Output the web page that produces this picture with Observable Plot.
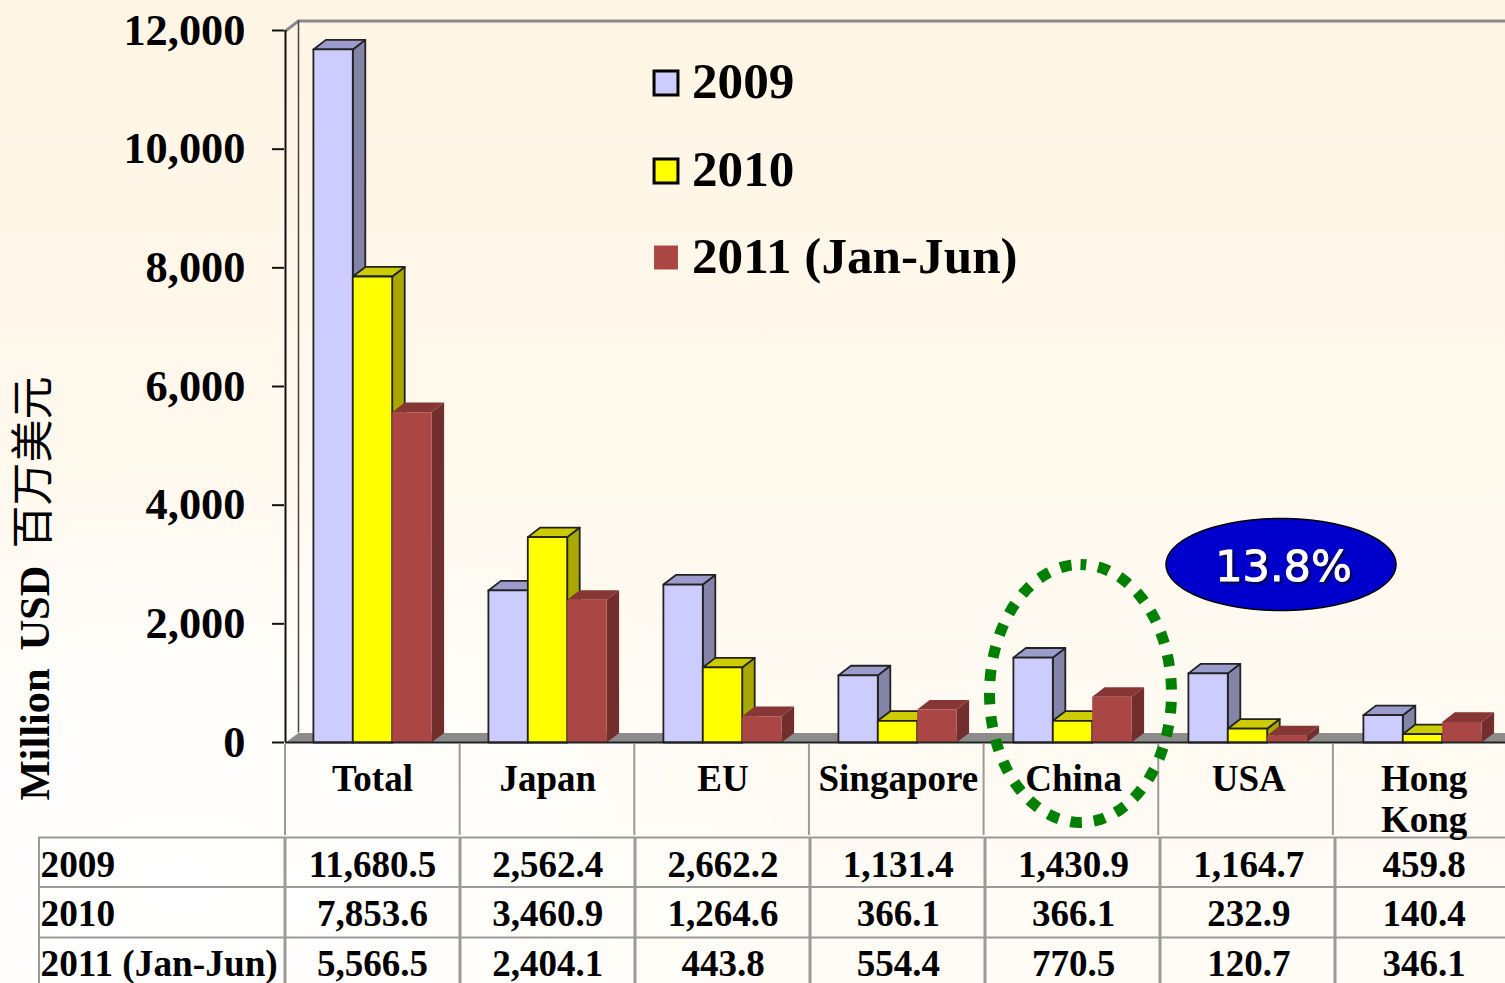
<!DOCTYPE html>
<html><head><meta charset="utf-8">
<script src="https://cdn.jsdelivr.net/npm/d3@7"></script>
<script src="https://cdn.jsdelivr.net/npm/@observablehq/plot@0.6"></script>
<style>
html,body{margin:0;padding:0;width:1505px;height:983px;overflow:hidden;
background:radial-gradient(ellipse 620px 420px at 12% 90%,rgba(255,255,255,1) 0%,rgba(255,255,255,.6) 55%,rgba(255,255,255,0) 100%),linear-gradient(to bottom,#fff5e4 0%,#fff7ea 30%,#fffaf1 65%,#fffcf6 100%);}
svg{display:block;background:transparent!important}
</style></head><body><div id="chart"></div>
<script>
const categories = ["Total","Japan","EU","Singapore","China","USA","Hong\nKong"];
const seriesNames = ["2009","2010","2011 (Jan-Jun)"];
const values2009 = [11680.5,2562.4,2662.2,1131.4,1430.9,1164.7,459.8];
const values2010 = [7853.6,3460.9,1264.6,366.1,366.1,232.9,140.4];
const values2011 = [5566.5,2404.1,443.8,554.4,770.5,120.7,346.1];
const yTicks = [0,2000,4000,6000,8000,10000,12000];
const frontColors = ["#ccccff","#ffff00","#aa4643"];
const topColors = ["#9c9ccc","#cccc00","#853635"];
const sideColors = ["#8484a8","#a8a800","#712e2d"];
const edgeColors = ["#222","#222","none"];
const rows = [values2009,values2010,values2011];

// scale helpers: the chart is laid out on index / value scales
const X0=372, XSTEP=175, Y0=742, YK=712/12000;
const xp = px => (px-X0)/XSTEP;
const yp = px => (Y0-px)/YK;
const barW = 39.4/XSTEP, depX = 12.5/XSTEP, depY = 9.6/YK;
const xMax = xp(1505);
const labelDrift = 0.0015;

const polys=[];
categories.forEach((c,i)=>{
  rows.forEach((vals,s)=>{
    const v=vals[i], l=i+(s-1.5)*barW, r=l+barW;
    const poly=(face,fill,pts)=>pts.concat([pts[0]]).forEach(p=>polys.push({z:`${i}-${s}-${face}`,fill,stroke:edgeColors[s],x:p[0],y:p[1]}));
    poly("side",sideColors[s],[[r,0],[r+depX,depY],[r+depX,v+depY],[r,v]]);
    poly("top",topColors[s],[[l,v],[r,v],[r+depX,v+depY],[l+depX,v+depY]]);
    poly("front",frontColors[s],[[l,0],[r,0],[r,v],[l,v]]);
  });
});
const ellipse=(cx,cy,rx,ry)=>d3.range(0,121).map(k=>{const a=-Math.PI/2+k/120*2*Math.PI;return {x:xp(cx+rx*Math.cos(a)),y:yp(cy+ry*Math.sin(a))};});
const serif='"Liberation Serif","Times New Roman",serif';
const T={fontFamily:serif,fontWeight:"bold",fill:"#000"};
const tableGray="#9a9a9a";
const seps=d3.range(0,7).map(i=>i-0.5);
const cells=[];
rows.forEach((vals,r)=>vals.forEach((v,i)=>cells.push({i,r,t:d3.format(",.1f")(v)})));
const rowBase=[876,925,975], rowLine=[837,886.5,937];
const legY=[82.5,170.5,257], legBase=[97,185,272];

const chart=Plot.plot({
  width:1505,height:983,marginLeft:284,marginRight:0,marginTop:0,marginBottom:0,
  style:{background:"transparent",overflow:"visible"},
  x:{domain:[0,6],range:[X0,X0+6*XSTEP],axis:null},
  y:{domain:[0,12000],range:[Y0,30]},
  marks:[
    // chart walls and floor
    Plot.line([[xp(285),0],[xp(298),depY],[xMax,depY],[xMax,0],[xp(285),0]],{fill:"#8c8c8c",stroke:"none"}),
    Plot.line([[xp(285),yp(30.5)],[xp(298),yp(20.5)],[xMax,yp(20.5)]],{stroke:"#8a8a8a",strokeWidth:3}),
    Plot.ruleX([xp(298)],{y1:depY,y2:yp(20.5),stroke:"#444",strokeWidth:1.5}),
    Plot.ruleX([xp(285)],{y1:0,y2:12000,stroke:"#111",strokeWidth:2}),
    // table grid
    Plot.ruleX(seps,{x:(d,i)=>d-i*0.002,y1:yp(744),y2:yp(835),stroke:tableGray,strokeWidth:2}),
    Plot.ruleX(seps,{y1:yp(837),y2:yp(983),stroke:tableGray,strokeWidth:3}),
    Plot.ruleX([xp(38.5)],{y1:yp(837),y2:yp(983),stroke:tableGray,strokeWidth:2}),
    Plot.ruleY(rowLine.map(yp),{x1:xp(38),x2:xMax,stroke:tableGray,strokeWidth:2}),
    // bars
    Plot.line(polys,{x:"x",y:"y",z:"z",fill:"fill",stroke:"stroke",strokeWidth:1.8,strokeLinejoin:"round"}),
    Plot.ruleY([0],{x1:xp(285),x2:xMax,stroke:"#222",strokeWidth:2}),
    Plot.axisY({ticks:yTicks,tickFormat:d3.format(","),tickSize:12,tickPadding:27,label:null,fontSize:44.4,...T,stroke:"#111",strokeWidth:2}),
    // y title
    Plot.text(["Million\u00a0\u2006USD"],{x:xp(48),y:yp(800),rotate:-90,textAnchor:"start",lineAnchor:"bottom",fontSize:42.5,...T}),
    Plot.text(["百万美元"],{x:xp(47),y:yp(548),rotate:-90,textAnchor:"start",lineAnchor:"bottom",fontSize:43,fontFamily:'"Noto Sans CJK SC"',fontWeight:"normal",fill:"#000"}),
    // category labels
    Plot.text(categories,{x:(d,i)=>i*(1+labelDrift),y:yp(761),textAnchor:"middle",lineAnchor:"top",lineHeight:1.11,fontSize:37,...T}),
    // table text
    Plot.text(seriesNames,{x:xp(40),y:(d,i)=>yp(rowBase[i]),textAnchor:"start",lineAnchor:"bottom",fontSize:37.3,...T}),
    Plot.text(cells,{x:d=>d.i*(1+labelDrift),y:d=>yp(rowBase[d.r]),text:"t",textAnchor:"middle",lineAnchor:"bottom",fontSize:37,...T}),
    // legend
    Plot.dot(seriesNames,{x:xp(665.5),y:(d,i)=>yp(legY[i]),symbol:"square",r:13.5,fill:(d,i)=>frontColors[i],stroke:(d,i)=>i<2?"#000":"none",strokeWidth:3}),
    Plot.text(seriesNames,{x:xp(691.5),y:(d,i)=>yp(legBase[i]),textAnchor:"start",lineAnchor:"bottom",fontSize:51.2,...T}),
    // callouts
    Plot.line(ellipse(1080,693,91,129),{x:"x",y:"y",stroke:"#008000",strokeWidth:11,strokeDasharray:"11.5 12",strokeDashoffset:5.75,strokeLinecap:"butt",curve:"linear"}),
    Plot.line(ellipse(1280.5,564,115,46),{x:"x",y:"y",fill:"#0000cc",stroke:"#000",strokeWidth:1.5}),
    Plot.text(["13.8%"],{x:xp(1283),y:yp(580),textAnchor:"middle",lineAnchor:"bottom",fontSize:43,fontWeight:"normal",fontFamily:'"DejaVu Sans",Verdana,sans-serif',fill:"#fff",stroke:"#fff",strokeWidth:1,imageFilter:"drop-shadow(2px 2px 1px #000044)"})
  ]
});
document.getElementById("chart").appendChild(chart);
</script></body></html>
